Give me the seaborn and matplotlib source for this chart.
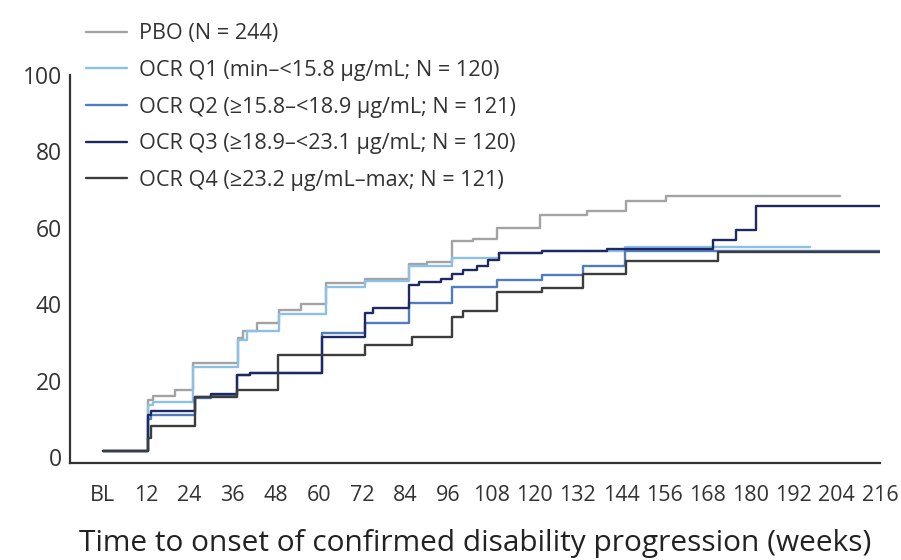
import matplotlib
matplotlib.use("Agg")
import matplotlib.pyplot as plt
import seaborn as sns
import pandas as pd

sns.set_style("white")
plt.rcParams['font.family'] = ['Open Sans', 'DejaVu Sans']

# Kaplan-Meier style step curves, % with confirmed disability progression
groups = ["PBO (N = 244)",
          "OCR Q1 (min–<15.8 µg/mL; N = 120)",
          "OCR Q2 (≥15.8–<18.9 µg/mL; N = 121)",
          "OCR Q3 (≥18.9–<23.1 µg/mL; N = 120)",
          "OCR Q4 (≥23.2 µg/mL–max; N = 121)"]
colors = ["#a3a3a3", "#8cc0e6", "#4f7dbd", "#1f2862", "#3d3d3f"]

pbo_wk = [0, 12.5, 14, 20, 25, 37.5, 39, 43, 49, 55, 62, 73, 85, 90, 97, 103,
          109.5, 121.5, 134.5, 145.5, 156.5, 205]
pbo_pct = [1.5, 15, 16, 17.5, 24.5, 31, 33, 35, 38.5, 40, 45.5, 46.5, 50.5, 51,
           56.5, 57, 60, 63.3, 64.5, 67, 68.4, 68.4]

q1_wk = [0, 12.5, 14, 25, 37.5, 40, 49, 62, 73, 85, 97, 110, 122, 145, 196.5]
q1_pct = [1.5, 13.5, 14.5, 23.5, 30.5, 33, 37.5, 44.5, 46, 50, 52, 53.3, 54, 55, 55]

q2_wk = [0, 12.5, 13.5, 25.6, 30, 37.2, 41, 61, 73, 85, 97, 109.5, 122, 133.5,
         145, 216]
q2_pct = [1.5, 10, 11, 15.4, 16.2, 21.4, 22, 32.4, 35, 40.2, 44.5, 46.2, 47.5,
          50, 54, 54]

q3_wk = [0, 12.5, 13.5, 25.6, 30, 37.2, 41, 61, 73, 75, 85, 88, 94, 97, 100,
         104, 107, 110, 122, 140, 169.5, 176, 181.6, 216]
q3_pct = [1.5, 11, 12, 15.7, 16.5, 21.4, 22, 31.5, 37.6, 38.9, 45, 45.8, 46.7,
          48, 49, 50, 51.5, 53.3, 54, 54.5, 56.7, 59.3, 65.8, 65.8]

q4_wk = [0, 12.5, 13.5, 25.6, 37.2, 48.7, 73, 86, 97, 100, 109.5, 122, 133.5,
         145.5, 171, 216]
q4_pct = [1.5, 5, 8, 15.7, 17.5, 26.6, 29.2, 31.4, 36.6, 38.2, 43.2, 44.2, 48,
          51.2, 53.6, 53.6]

x_ticks = list(range(0, 217, 12))
x_labels = ["BL"] + [str(t) for t in x_ticks[1:]]
y_ticks = [0, 20, 40, 60, 80, 100]

curves = [(pbo_wk, pbo_pct), (q1_wk, q1_pct), (q2_wk, q2_pct),
          (q3_wk, q3_pct), (q4_wk, q4_pct)]
frames = []
for name, (wk, pct) in zip(groups, curves):
    frames.append(pd.DataFrame({"week": wk, "pct": pct, "group": name}))
df = pd.concat(frames, ignore_index=True)

fig = plt.figure(figsize=(9.01, 5.6), dpi=100)
ax = fig.add_axes([0.0777, 0.1732, 0.899, 0.693])

sns.lineplot(data=df, x="week", y="pct", hue="group", palette=colors,
             hue_order=groups, estimator=None, sort=False,
             drawstyle="steps-post", linewidth=1.7, legend=False, ax=ax)

ax.set_xlim(-9.1, 216)
ax.set_ylim(-1.6, 100)
ax.set_xticks(x_ticks)
ax.set_xticklabels(x_labels)
ax.set_yticks(y_ticks)
ax.set_xlabel("Time to onset of confirmed disability progression (weeks)",
              fontsize=21.5, color="#222222", labelpad=17)
ax.set_ylabel("")

for side in ["top", "right"]:
    ax.spines[side].set_visible(False)
for side in ["left", "bottom"]:
    ax.spines[side].set_color("#333333")
    ax.spines[side].set_linewidth(1.6)
ax.tick_params(axis="both", direction="out", length=6.5, width=1.4,
               color="#333333", labelsize=15.5, labelcolor="#333333")
ax.tick_params(axis="x", pad=9)
ax.tick_params(axis="y", pad=1, length=5, labelsize=16.5)

handles = [plt.Line2D([], [], color=c, linewidth=1.7) for c in colors]
fig.legend(handles, groups, loc="upper left", bbox_to_anchor=(0.074, 0.993),
           frameon=False, fontsize=15.6, handlelength=1.9, handletextpad=0.55,
           labelspacing=0.72, labelcolor="#333333")

fig.savefig("out.png", dpi=100)
